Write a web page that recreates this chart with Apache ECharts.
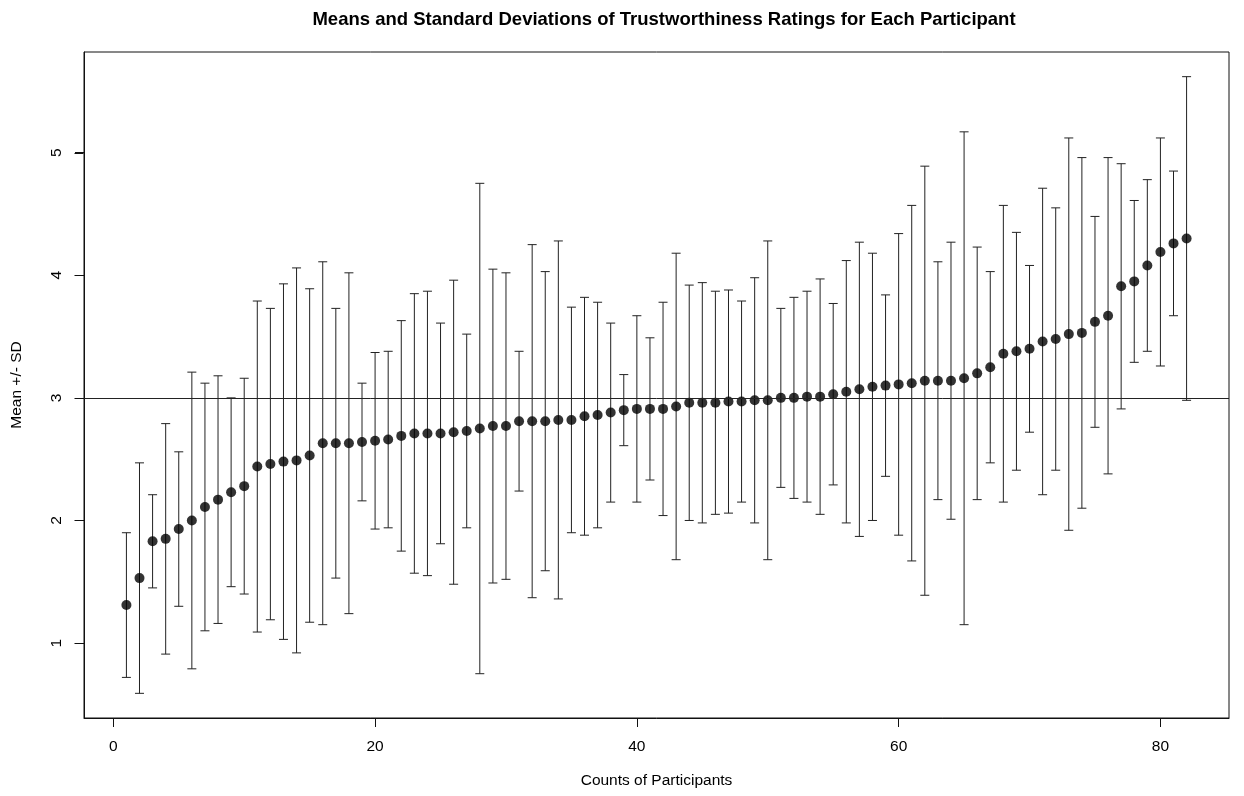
<!DOCTYPE html>
<html>
<head>
<meta charset="utf-8">
<title>Means and Standard Deviations of Trustworthiness Ratings</title>
<script src="https://cdn.jsdelivr.net/npm/echarts@6/dist/echarts.min.js"></script>
<style>
  html, body { margin: 0; padding: 0; background: #fff; }
  #chart { width: 1244px; height: 796px; }
</style>
</head>
<body>
<div id="chart"></div>
<script>
// Mean trustworthiness rating per participant (sorted ascending)
const means = [
  1.31, 1.53, 1.83, 1.85, 1.93, 2.00, 2.11, 2.17, 2.23, 2.28,
  2.44, 2.46, 2.48, 2.49, 2.53, 2.63, 2.63, 2.63, 2.64, 2.65,
  2.66, 2.69, 2.71, 2.71, 2.71, 2.72, 2.73, 2.75, 2.77, 2.77,
  2.81, 2.81, 2.81, 2.82, 2.82, 2.85, 2.86, 2.88, 2.90, 2.91,
  2.91, 2.91, 2.93, 2.96, 2.96, 2.96, 2.97, 2.97, 2.98, 2.98,
  3.00, 3.00, 3.01, 3.01, 3.03, 3.05, 3.07, 3.09, 3.10, 3.11,
  3.12, 3.14, 3.14, 3.14, 3.16, 3.20, 3.25, 3.36, 3.38, 3.40,
  3.46, 3.48, 3.52, 3.53, 3.62, 3.67, 3.91, 3.95, 4.08, 4.19,
  4.26, 4.30
];

// Standard deviation of each participant's ratings
const sds = [
  0.59, 0.94, 0.38, 0.94, 0.63, 1.21, 1.01, 1.01, 0.77, 0.88,
  1.35, 1.27, 1.45, 1.57, 1.36, 1.48, 1.10, 1.39, 0.48, 0.72,
  0.72, 0.94, 1.14, 1.16, 0.90, 1.24, 0.79, 2.00, 1.28, 1.25,
  0.57, 1.44, 1.22, 1.46, 0.92, 0.97, 0.92, 0.73, 0.29, 0.76,
  0.58, 0.87, 1.25, 0.96, 0.98, 0.91, 0.91, 0.82, 1.00, 1.30,
  0.73, 0.82, 0.86, 0.96, 0.74, 1.07, 1.20, 1.09, 0.74, 1.23,
  1.45, 1.75, 0.97, 1.13, 2.01, 1.03, 0.78, 1.21, 0.97, 0.68,
  1.25, 1.07, 1.60, 1.43, 0.86, 1.29, 1.00, 0.66, 0.70, 0.93,
  0.59, 1.32
];

const xTicks = [0, 20, 40, 60, 80];
const yTicks = [1, 2, 3, 4, 5];
const referenceLevel = 3;

const ids = means.map((_, i) => i + 1);
const pointData = ids.map((id, i) => [id, means[i]]);
const barData = ids.map((id, i) => [id, means[i] - sds[i], means[i] + sds[i]]);

// Plot range padded by 4% on each side
const xMin = 1 - 0.04 * (ids.length - 1);
const xMax = ids.length + 0.04 * (ids.length - 1);
const lows = barData.map(d => d[1]);
const highs = barData.map(d => d[2]);
const lo = Math.min(...lows), hi = Math.max(...highs);
const yMin = lo - 0.04 * (hi - lo);
const yMax = hi + 0.04 * (hi - lo);

const FONT = 'Liberation Sans, Arial, Helvetica, sans-serif';
const AXIS_FONT = 15.5;
const INK = '#111';
const TICK_LEN = 9;
const chart = echarts.init(document.getElementById('chart'));

chart.setOption({
  backgroundColor: '#ffffff',
  animation: false,
  title: {
    text: 'Means and Standard Deviations of Trustworthiness Ratings for Each Participant',
    left: 659,
    top: 5,
    textAlign: 'center',
    textStyle: { fontFamily: FONT, fontSize: 18.5, fontWeight: 'bold', color: '#000' }
  },
  grid: {
    left: 84, right: 15, top: 52, bottom: 78,
    show: true, borderColor: INK, borderWidth: 1, backgroundColor: 'transparent'
  },
  xAxis: {
    type: 'value',
    position: 'bottom',
    min: xMin, max: xMax,
    name: 'Counts of Participants',
    nameLocation: 'middle',
    nameGap: 55,
    nameTextStyle: { fontFamily: FONT, fontSize: AXIS_FONT, color: '#000' },
    axisLine: { show: true, onZero: false, lineStyle: { color: INK, width: 1 } },
    splitLine: { show: false },
    axisTick: { show: true, inside: false, length: TICK_LEN, customValues: xTicks, lineStyle: { color: INK } },
    axisLabel: { customValues: xTicks, margin: 21, fontFamily: FONT, fontSize: AXIS_FONT, color: '#000' }
  },
  yAxis: {
    type: 'value',
    position: 'left',
    min: yMin, max: yMax,
    name: 'Mean +/- SD',
    nameLocation: 'middle',
    nameRotate: 90,
    nameGap: 59,
    nameTextStyle: { fontFamily: FONT, fontSize: AXIS_FONT, color: '#000' },
    axisLine: { show: true, onZero: false, lineStyle: { color: INK, width: 1 } },
    splitLine: { show: false },
    axisTick: { show: true, inside: false, length: TICK_LEN, customValues: yTicks, lineStyle: { color: INK } },
    axisLabel: { customValues: yTicks, rotate: 90, margin: 19, fontFamily: FONT, fontSize: AXIS_FONT, color: '#000' }
  },
  series: [
    {
      name: 'sd',
      type: 'custom',
      data: barData,
      z: 2,
      renderItem: function (params, api) {
        const x = api.value(0);
        const top = api.coord([x, api.value(2)]);
        const bot = api.coord([x, api.value(1)]);
        const cap = 4.5;
        const style = { stroke: '#222', lineWidth: 1, fill: null };
        return {
          type: 'group',
          children: [
            { type: 'line', shape: { x1: top[0], y1: top[1], x2: bot[0], y2: bot[1] }, style: style },
            { type: 'line', shape: { x1: top[0] - cap, y1: top[1], x2: top[0] + cap, y2: top[1] }, style: style },
            { type: 'line', shape: { x1: bot[0] - cap, y1: bot[1], x2: bot[0] + cap, y2: bot[1] }, style: style }
          ]
        };
      }
    },
    {
      // outward tick marks on the left axis at the labelled values
      name: 'yTickMarks',
      type: 'custom',
      data: yTicks.map(v => [xMin, v]),
      clip: false,
      silent: true,
      z: 5,
      renderItem: function (params, api) {
        const p = api.coord([api.value(0), api.value(1)]);
        const x0 = Math.round(p[0]) - 0.5;
        const y0 = Math.round(p[1]) + 0.5;
        return {
          type: 'line',
          shape: { x1: x0 - TICK_LEN, y1: y0, x2: x0, y2: y0 },
          style: { stroke: INK, lineWidth: 1 }
        };
      }
    },
    {
      name: 'mean',
      type: 'scatter',
      data: pointData,
      symbol: 'circle',
      symbolSize: 10,
      z: 3,
      itemStyle: { color: '#000' },
      markLine: {
        silent: true,
        symbol: 'none',
        label: { show: false },
        lineStyle: { color: '#222', width: 1, type: 'solid' },
        data: [{ yAxis: referenceLevel }]
      }
    }
  ]
});
</script>
</body>
</html>
